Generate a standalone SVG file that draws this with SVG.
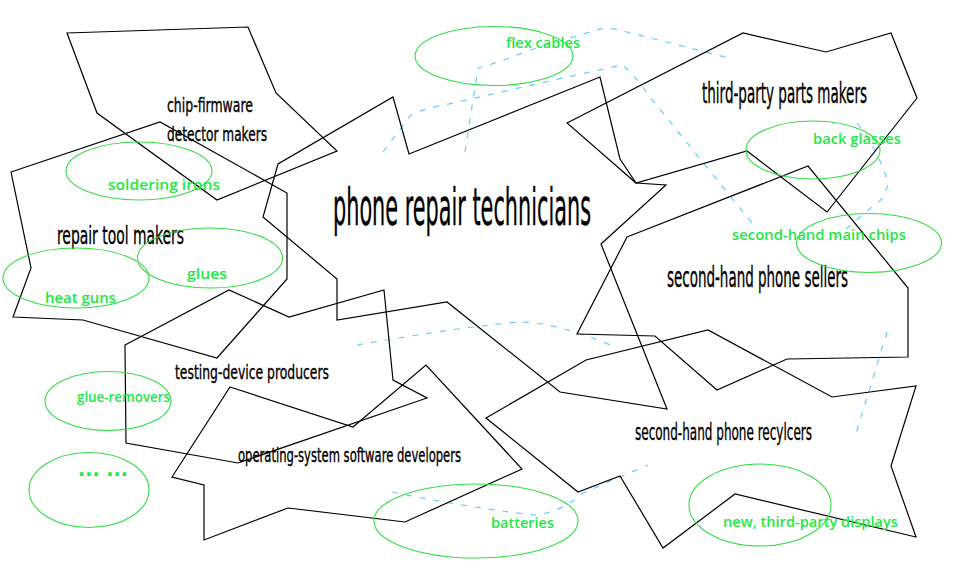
<svg xmlns="http://www.w3.org/2000/svg" width="956" height="577" viewBox="0 0 956 577">
<style>
.shape{fill:none;stroke:#000;stroke-width:1.2;stroke-linejoin:miter}
.lbl{font-family:"Liberation Sans Narrow","DejaVu Sans Condensed","Liberation Sans",sans-serif;fill:#000;stroke:#000;stroke-width:0.35}
.oval{fill:none;stroke:#33dd44;stroke-width:1.1}
.gl{font-family:"Open Sans","Liberation Sans",sans-serif;fill:#22e844;font-size:15px;font-weight:600}
.dash{fill:none;stroke:#66ccff;stroke-width:1.2;stroke-dasharray:6 8}
</style>
<rect width="956" height="577" fill="#fff"/>
<g id="connectors">
<path class="dash" d="M383,152 L410,116 Q418,110 440,106 L510,90 Q580,74 622,65 Q632,72 650,97 L752,223"/>
<path class="dash" d="M465,152 L478,68 Q500,62 530,50 L590,32 Q606,25 627,32 L733,59"/>
<path class="dash" d="M857,123 Q878,150 888,182 Q886,199 872,207 L833,240"/>
<path class="dash" d="M887,332 L855,437"/>
<path class="dash" d="M357,345 Q460,327 520,322 Q555,322 613,346"/>
<path class="dash" d="M392,492 Q470,508 535,515 Q562,512 583,493 L648,465"/>
</g>
<g id="chip-firmware-detector-makers">
<polygon class="shape" points="67,33 248,27 276,93 337,151 217,200 97,113"/>
<text class="lbl" x="167" y="112" font-size="20" textLength="86" lengthAdjust="spacingAndGlyphs">chip-firmware</text>
<text class="lbl" x="167" y="141" font-size="20" textLength="100" lengthAdjust="spacingAndGlyphs">detector makers</text>
</g>
<g id="repair-tool-makers">
<polygon class="shape" points="11,172 160,122 287,193 287,279 217,358 83,320 13,317 31,268"/>
<text class="lbl" x="57" y="244" font-size="24" textLength="127" lengthAdjust="spacingAndGlyphs">repair tool makers</text>
</g>
<g id="phone-repair-technicians">
<polygon class="shape" points="393,97 409,154 600,77 620,159 636,183 666,185 601,244 667,409 560,392 447,302 337,320 337,279 263,217 278,164"/>
<text class="lbl" x="333" y="225" font-size="52" stroke-width="0.6" textLength="258" lengthAdjust="spacingAndGlyphs">phone repair technicians</text>
</g>
<g id="third-party-parts-makers">
<polygon class="shape" points="567,123 743,33 826,52 891,33 917,98 827,212 747,151 636,183"/>
<text class="lbl" x="702" y="103" font-size="28" textLength="165" lengthAdjust="spacingAndGlyphs">third-party parts makers</text>
</g>
<g id="second-hand-phone-sellers">
<polygon class="shape" points="627,237 808,166 908,288 908,357 787,359 717,390 655,336 577,334"/>
<text class="lbl" x="667" y="287" font-size="28" textLength="181" lengthAdjust="spacingAndGlyphs">second-hand phone sellers</text>
</g>
<g id="testing-device-producers">
<polygon class="shape" points="125,345 229,290 289,317 384,290 393,380 427,398 238,463 126,443"/>
<text class="lbl" x="175" y="379" font-size="20" textLength="154" lengthAdjust="spacingAndGlyphs">testing-device producers</text>
</g>
<g id="operating-system-software-developers">
<polygon class="shape" points="230,387 353,427 426,365 522,469 405,522 288,508 204,540 204,485 172,477"/>
<text class="lbl" x="238" y="462" font-size="19" textLength="223" lengthAdjust="spacingAndGlyphs">operating-system software developers</text>
</g>
<g id="second-hand-phone-recyclers">
<polygon class="shape" points="486,418 586,360 708,330 832,397 916,386 891,466 916,537 735,494 663,548 620,476 578,492"/>
<text class="lbl" x="635" y="440" font-size="23" textLength="177" lengthAdjust="spacingAndGlyphs">second-hand phone recylcers</text>
</g>
<g id="flex-cables">
<ellipse class="oval" cx="494" cy="56" rx="79" ry="29.5"/>
<text class="gl" x="506" y="48" textLength="74" lengthAdjust="spacingAndGlyphs">flex cables</text>
</g>
<g id="soldering-irons">
<ellipse class="oval" cx="139" cy="171" rx="73" ry="29"/>
<text class="gl" x="108" y="190" textLength="112" lengthAdjust="spacingAndGlyphs">soldering irons</text>
</g>
<g id="glues">
<ellipse class="oval" cx="210" cy="258" rx="72.5" ry="30"/>
<text class="gl" x="187" y="279" font-size="17" textLength="40" lengthAdjust="spacingAndGlyphs">glues</text>
</g>
<g id="heat-guns">
<ellipse class="oval" cx="76" cy="278" rx="73" ry="30"/>
<text class="gl" x="45" y="303" textLength="71" lengthAdjust="spacingAndGlyphs">heat guns</text>
</g>
<g id="glue-removers">
<ellipse class="oval" cx="108" cy="401" rx="63" ry="29.5"/>
<text class="gl" x="77" y="402" textLength="93" lengthAdjust="spacingAndGlyphs">glue-removers</text>
</g>
<g id="more">
<ellipse class="oval" cx="89" cy="490" rx="60" ry="37.5"/>
<text x="78" y="476" fill="#22e844" font-family="'DejaVu Sans',sans-serif" font-size="19" font-weight="bold">... ...</text>
</g>
<g id="batteries">
<ellipse class="oval" cx="476" cy="521" rx="102" ry="37"/>
<text class="gl" x="491" y="528" font-size="16" textLength="63" lengthAdjust="spacingAndGlyphs">batteries</text>
</g>
<g id="new-third-party-displays">
<ellipse class="oval" cx="760" cy="505" rx="71" ry="41"/>
<text class="gl" x="723" y="527" textLength="175" lengthAdjust="spacingAndGlyphs">new, third-party displays</text>
</g>
<g id="back-glasses">
<ellipse class="oval" cx="813" cy="150" rx="67" ry="29"/>
<text class="gl" x="813" y="144" textLength="88" lengthAdjust="spacingAndGlyphs">back glasses</text>
</g>
<g id="second-hand-main-chips">
<ellipse class="oval" cx="869" cy="243" rx="72.5" ry="29.5"/>
<text class="gl" x="732" y="240" textLength="174" lengthAdjust="spacingAndGlyphs">second-hand main chips</text>
</g>
</svg>
